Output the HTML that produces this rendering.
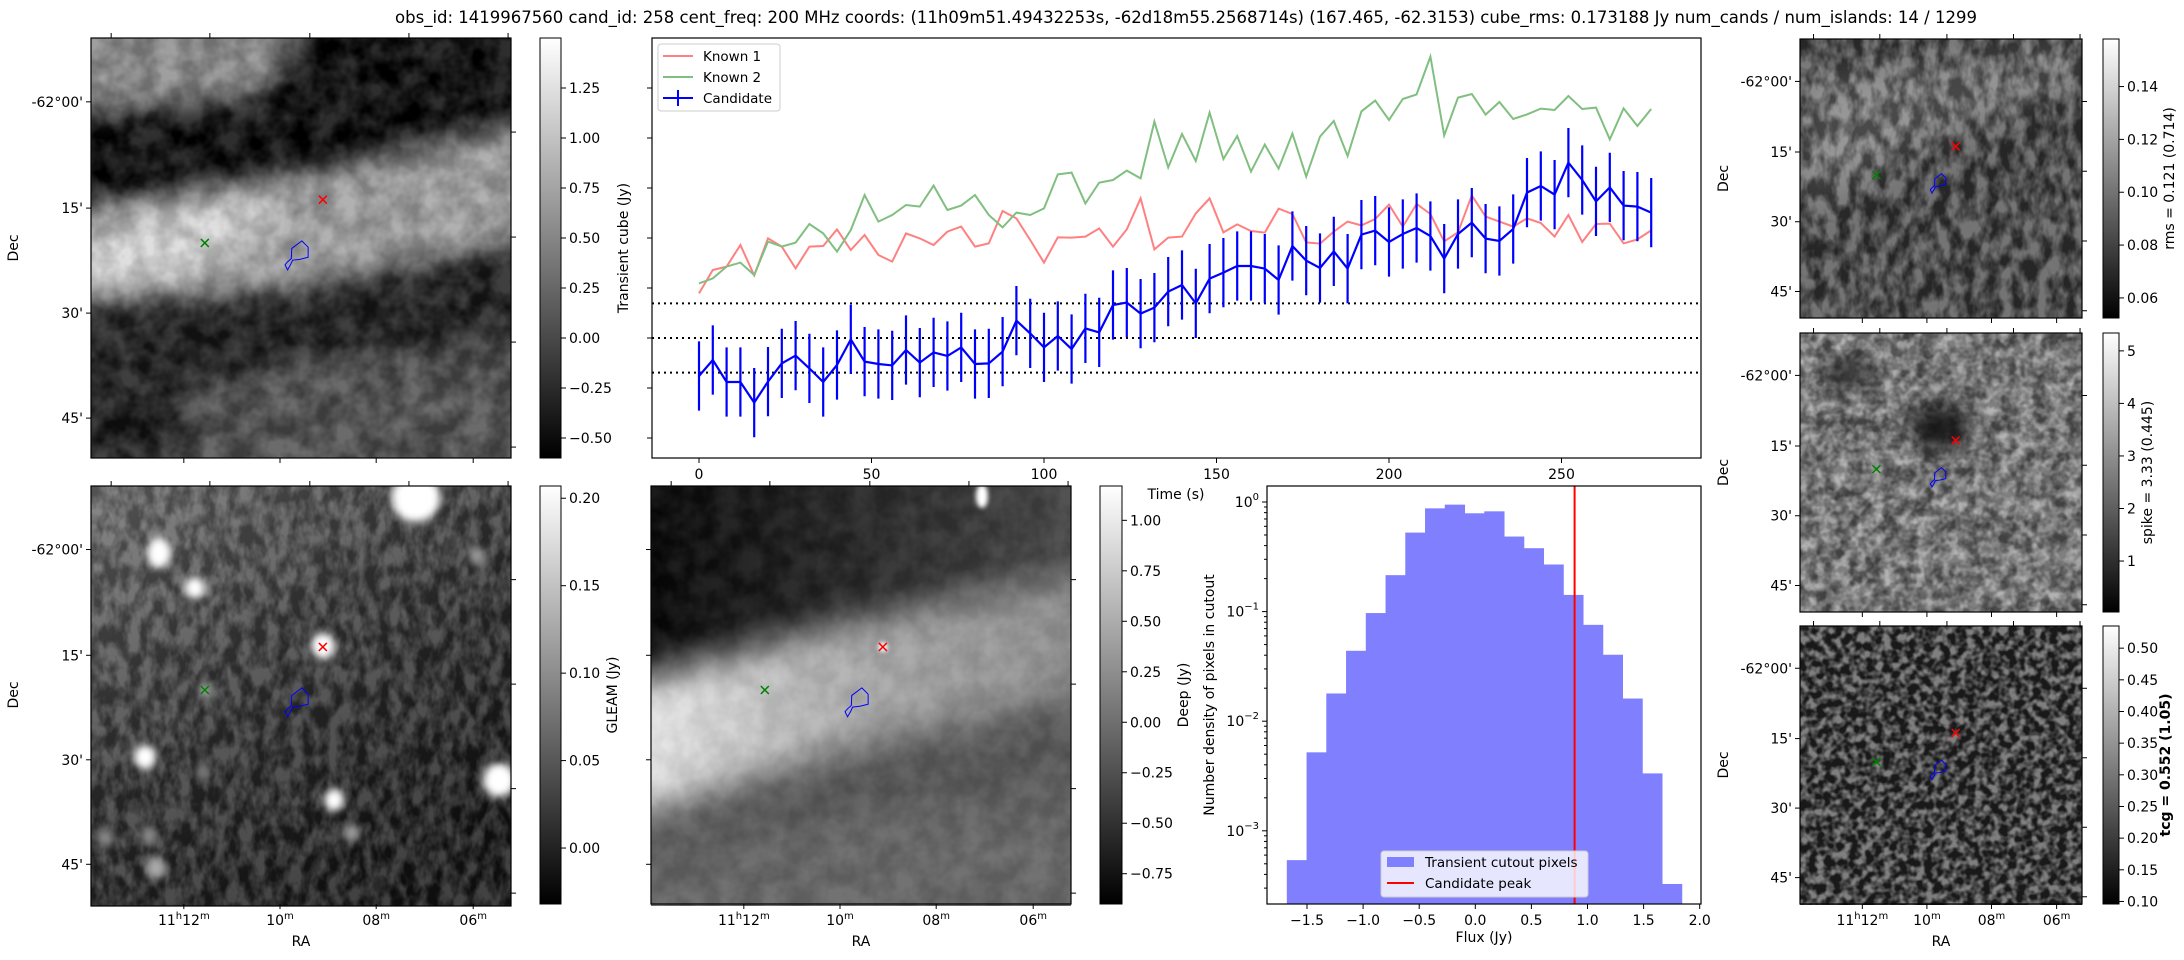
<!DOCTYPE html>
<html><head><meta charset="utf-8"><style>
html,body{margin:0;padding:0;background:#fff;}
svg{display:block;font-family:"DejaVu Sans","Liberation Sans",sans-serif;}
filter{color-interpolation-filters:sRGB;}
</style></head><body>
<svg id="fig" width="2184" height="960" viewBox="0 0 2184 960" xmlns="http://www.w3.org/2000/svg">
<defs>
<filter id="blur12" x="-10%" y="-10%" width="120%" height="120%" color-interpolation-filters="sRGB"><feGaussianBlur stdDeviation="12"/></filter>
<filter id="blur18" x="-10%" y="-10%" width="120%" height="120%" color-interpolation-filters="sRGB"><feGaussianBlur stdDeviation="18"/></filter>
<filter id="blur4" x="-50%" y="-50%" width="200%" height="200%" color-interpolation-filters="sRGB"><feGaussianBlur stdDeviation="4"/></filter>
<filter id="blur2" x="-50%" y="-50%" width="200%" height="200%" color-interpolation-filters="sRGB"><feGaussianBlur stdDeviation="2.5"/></filter>
<filter id="noiseA" x="0" y="0" width="100%" height="100%" color-interpolation-filters="sRGB"><feTurbulence type="fractalNoise" baseFrequency="0.045" numOctaves="3" seed="4"/><feColorMatrix type="matrix" values="1 0 0 0 0 1 0 0 0 0 1 0 0 0 0 0 0 0 0 1"/><feComponentTransfer><feFuncR type="linear" slope="2.2" intercept="-0.6"/><feFuncG type="linear" slope="2.2" intercept="-0.6"/><feFuncB type="linear" slope="2.2" intercept="-0.6"/></feComponentTransfer></filter>
<filter id="noiseB" x="0" y="0" width="100%" height="100%" color-interpolation-filters="sRGB"><feTurbulence type="fractalNoise" baseFrequency="0.08 0.05" numOctaves="3" seed="9"/><feColorMatrix type="matrix" values="1 0 0 0 0 1 0 0 0 0 1 0 0 0 0 0 0 0 0 1"/><feComponentTransfer><feFuncR type="linear" slope="2.6" intercept="-0.8"/><feFuncG type="linear" slope="2.6" intercept="-0.8"/><feFuncB type="linear" slope="2.6" intercept="-0.8"/></feComponentTransfer></filter>
<filter id="noiseC" x="0" y="0" width="100%" height="100%" color-interpolation-filters="sRGB"><feTurbulence type="fractalNoise" baseFrequency="0.12" numOctaves="2" seed="2"/><feColorMatrix type="matrix" values="1 0 0 0 0 1 0 0 0 0 1 0 0 0 0 0 0 0 0 1"/><feComponentTransfer><feFuncR type="linear" slope="3" intercept="-1.1"/><feFuncG type="linear" slope="3" intercept="-1.1"/><feFuncB type="linear" slope="3" intercept="-1.1"/></feComponentTransfer></filter>
<filter id="noiseD" x="0" y="0" width="100%" height="100%" color-interpolation-filters="sRGB"><feTurbulence type="fractalNoise" baseFrequency="0.06" numOctaves="3" seed="17"/><feColorMatrix type="matrix" values="1 0 0 0 0 1 0 0 0 0 1 0 0 0 0 0 0 0 0 1"/><feComponentTransfer><feFuncR type="linear" slope="2.6" intercept="-0.8"/><feFuncG type="linear" slope="2.6" intercept="-0.8"/><feFuncB type="linear" slope="2.6" intercept="-0.8"/></feComponentTransfer></filter>
<linearGradient id="cbar" x1="0" y1="1" x2="0" y2="0"><stop offset="0" stop-color="#000"/><stop offset="1" stop-color="#fff"/></linearGradient>
<linearGradient id="deepTop" x1="0" y1="0" x2="1" y2="0"><stop offset="0" stop-color="#000"/><stop offset="1" stop-color="#4a4a4a"/></linearGradient>
<linearGradient id="deepBand" x1="0" y1="0" x2="1" y2="0"><stop offset="0" stop-color="#f4f4f4"/><stop offset="0.5" stop-color="#aaa"/><stop offset="1" stop-color="#8a8a8a"/></linearGradient>
<linearGradient id="gleamBg" x1="0" y1="0" x2="0.6" y2="1"><stop offset="0" stop-color="#6a6a6a"/><stop offset="0.5" stop-color="#333"/><stop offset="1" stop-color="#121212"/></linearGradient>
<clipPath id="c420"><rect width="420" height="420"/></clipPath>
<clipPath id="c282"><rect width="282" height="279"/></clipPath>
</defs>

<text x="1186" y="23" text-anchor="middle" font-size="16.5" fill="#000">obs_id: 1419967560 cand_id: 258 cent_freq: 200 MHz coords: (11h09m51.49432253s, -62d18m55.2568714s) (167.465, -62.3153) cube_rms: 0.173188 Jy num_cands / num_islands: 14 / 1299</text>

<g transform="translate(91,38)">
 <g clip-path="url(#c420)">
  <rect width="420" height="420" fill="#555"/>
  <g filter="url(#blur12)">
   <polygon points="-30,-30 170,-30 210,20 170,60 -30,80" fill="#8a8a8a"/>
   <polygon points="-30,80 170,60 230,-30 450,-30 450,85 250,130 -30,170" fill="#000"/>
   <polygon points="-30,170 250,128 450,80 450,200 200,252 -30,268" fill="#a0a0a0"/>
   <ellipse cx="80" cy="205" rx="110" ry="35" transform="rotate(-14 80 205)" fill="#d8d8d8"/>
   <polygon points="-30,268 200,252 450,198 450,300 200,322 -30,395" fill="#151515"/>
   <polygon points="-30,395 200,322 450,300 450,450 -30,450" fill="#4a4a4a"/>
   <ellipse cx="30" cy="390" rx="70" ry="40" fill="#111"/>
  </g>
  <rect width="420" height="420" filter="url(#noiseA)" opacity="0.18"/>
 </g>
 <rect width="420" height="420" fill="none" stroke="#000" stroke-width="1.2"/>
</g>
<g transform="translate(91,486)">
 <g clip-path="url(#c420)">
  <rect width="420" height="420" fill="url(#gleamBg)"/>
  <rect width="420" height="420" filter="url(#noiseB)" opacity="0.2"/>
  <g filter="url(#blur4)" fill="#fff">
   <ellipse cx="325" cy="12" rx="24" ry="24"/>
   <ellipse cx="68" cy="67" rx="12" ry="15"/>
   <ellipse cx="104" cy="102" rx="10" ry="11"/>
   <ellipse cx="232" cy="160" rx="12" ry="13"/>
   <ellipse cx="54" cy="271" rx="11" ry="12"/>
   <ellipse cx="408" cy="294" rx="16" ry="17"/>
   <ellipse cx="243" cy="314" rx="10" ry="11"/>
   <ellipse cx="114" cy="204" rx="7" ry="8" fill="#999"/>
   <ellipse cx="261" cy="347" rx="8" ry="9" fill="#999"/>
   <ellipse cx="65" cy="382" rx="10" ry="11" fill="#aaa"/>
   <ellipse cx="14" cy="352" rx="8" ry="9" fill="#888"/>
   <ellipse cx="58" cy="350" rx="8" ry="9" fill="#888"/>
   <ellipse cx="386" cy="70" rx="8" ry="9" fill="#999"/>
   <ellipse cx="112" cy="286" rx="7" ry="9" fill="#777"/>
  </g>
 </g>
 <rect width="420" height="420" fill="none" stroke="#000" stroke-width="1.2"/>
</g>
<g transform="translate(651,486)">
 <g clip-path="url(#c420)">
  <rect width="420" height="420" fill="#666"/>
  <g filter="url(#blur18)">
   <polygon points="-40,-40 460,-40 460,80 200,135 -40,200" fill="url(#deepTop)"/>
   <polygon points="-40,200 200,135 460,80 460,200 200,262 -40,335" fill="url(#deepBand)"/>
   <polygon points="-40,335 200,262 460,200 460,300 200,330 -40,390" fill="#555"/>
  </g>
  <rect width="420" height="420" filter="url(#noiseA)" opacity="0.08"/>
  <g filter="url(#blur2)" fill="#fff"><ellipse cx="331" cy="10" rx="6" ry="12"/><ellipse cx="232" cy="161" rx="5" ry="5"/></g>
 </g>
 <rect width="420" height="418" fill="none" stroke="#000" stroke-width="1.2"/>
</g>
<g transform="translate(1800,39)">
 <g clip-path="url(#c282)">
  <rect width="282" height="279" fill="#383838"/>
  <g filter="url(#blur18)"><polygon points="0,40 150,20 282,0 282,40 150,90 0,170" fill="#6a6a6a"/></g>
  <rect width="282" height="279" filter="url(#noiseB)" opacity="0.3"/>
 </g>
 <rect width="282" height="279" fill="none" stroke="#000" stroke-width="1.2"/>
</g>
<g transform="translate(1800,333)">
 <g clip-path="url(#c282)">
  <rect width="282" height="279" fill="#777"/>
  <rect width="282" height="279" filter="url(#noiseD)" opacity="0.3"/>
  <rect width="282" height="279" filter="url(#noiseC)" opacity="0.2"/>
  <g filter="url(#blur12)"><ellipse cx="140" cy="95" rx="30" ry="22" fill="#111"/><ellipse cx="50" cy="40" rx="25" ry="14" fill="#222"/></g>
 </g>
 <rect width="282" height="279" fill="none" stroke="#000" stroke-width="1.2"/>
</g>
<g transform="translate(1800,626)">
 <g clip-path="url(#c282)">
  <rect width="282" height="279" fill="#2a2a2a"/>
  <rect width="282" height="279" filter="url(#noiseC)" opacity="0.4"/>
 </g>
 <rect width="282" height="278" fill="none" stroke="#000" stroke-width="1.2"/>
</g>

<g id="charts"></g>
</svg>
<script>
// ---- Light curve data ----
const lcTimes = [0,4,8,12,16,20,24,28,32,36,40,44,48,52,56,60,64,68,72,76,80,84,88,92,96,100,104,108,112,116,120,124,128,132,136,140,144,148,152,156,160,164,168,172,176,180,184,188,192,196,200,204,208,212,216,220,224,228,232,236,240,244,248,252,256,260,264,268,272,276];
const known1 = [0.223,0.34,0.357,0.465,0.313,0.498,0.457,0.348,0.457,0.46,0.543,0.44,0.515,0.415,0.382,0.523,0.498,0.465,0.532,0.557,0.457,0.473,0.635,0.598,0.49,0.377,0.503,0.502,0.507,0.548,0.457,0.543,0.698,0.443,0.502,0.507,0.623,0.698,0.528,0.568,0.535,0.527,0.647,0.62,0.478,0.472,0.532,0.582,0.563,0.595,0.667,0.557,0.67,0.62,0.483,0.528,0.713,0.607,0.582,0.557,0.598,0.575,0.507,0.615,0.48,0.57,0.572,0.473,0.493,0.538];
const known2 = [0.273,0.298,0.357,0.377,0.315,0.482,0.457,0.477,0.57,0.523,0.432,0.54,0.715,0.582,0.615,0.665,0.657,0.762,0.64,0.662,0.715,0.615,0.553,0.627,0.615,0.648,0.818,0.827,0.673,0.777,0.79,0.837,0.798,1.082,0.853,1.02,0.885,1.127,0.895,1.01,0.832,0.967,0.847,1.022,0.807,1.007,1.085,0.91,1.133,1.187,1.09,1.195,1.218,1.407,1.013,1.202,1.22,1.117,1.18,1.095,1.118,1.147,1.14,1.21,1.145,1.152,0.993,1.148,1.06,1.145];
const candidate = [-0.19,-0.11,-0.22,-0.22,-0.323,-0.218,-0.127,-0.088,-0.152,-0.22,-0.135,-0.007,-0.118,-0.13,-0.137,-0.06,-0.123,-0.072,-0.09,-0.047,-0.13,-0.127,-0.068,0.087,0.023,-0.047,0.01,-0.055,0.048,0.028,0.165,0.177,0.122,0.152,0.232,0.265,0.173,0.297,0.327,0.36,0.36,0.347,0.29,0.46,0.387,0.35,0.433,0.347,0.517,0.537,0.48,0.52,0.55,0.51,0.397,0.52,0.577,0.497,0.485,0.545,0.727,0.76,0.717,0.877,0.79,0.683,0.753,0.662,0.657,0.627];
const candErr = 0.173;
const rmsLines = [0.173188, 0, -0.173188];
const lcXTicks = [0,50,100,150,200,250];
const lcYTicks = [-0.5,-0.25,0,0.25,0.5,0.75,1.0,1.25];
// ---- Histogram data ----
const histEdgeStart = -1.68;
const histBinWidth = 0.176;
const histDensity = [5.4e-4,5.2e-3,1.79e-2,4.39e-2,9.7e-2,0.215,0.526,0.875,0.946,0.789,0.822,0.484,0.379,0.269,0.142,0.0757,0.0404,0.0161,3.34e-3,3.27e-4];
const candidatePeak = 0.885;
const histXTicks = [-1.5,-1.0,-0.5,0.0,0.5,1.0,1.5,2.0];
const histYDecades = [0,-1,-2,-3];
// ---- Colorbar data ----
const cbCube = [-0.5,-0.25,0,0.25,0.5,0.75,1.0,1.25];
const cbGleam = [0,0.05,0.1,0.15,0.2];
const cbDeep = [-0.75,-0.5,-0.25,0,0.25,0.5,0.75,1.0];
const cbRms = [0.06,0.08,0.1,0.12,0.14];
const cbSpike = [1,2,3,4,5];
const cbTcg = [0.1,0.15,0.2,0.25,0.3,0.35,0.4,0.45,0.5];
const raTicks = ['12','10','08','06'];
const decTicks = ["-62°00'","15'","30'","45'"];

const NS='http://www.w3.org/2000/svg';
const root=document.getElementById('charts');
function mk(tag,attrs,parent){const e=document.createElementNS(NS,tag);for(const k in attrs)e.setAttribute(k,attrs[k]);(parent||root).appendChild(e);return e;}
function fmt(v,d){return (v<0?'\u2212':'')+Math.abs(v).toFixed(d);}

// ---- Light curve ----
const LC={l:652,r:1701,t:38,b:458};
const lx=t=>699+3.45*t, ly=v=>338-200*v;
const lcG=mk('g',{});


const cp=mk('clipPath',{id:'lcClip'},lcG);
mk('rect',{x:LC.l,y:LC.t,width:LC.r-LC.l,height:LC.b-LC.t},cp);
const inner=mk('g',{'clip-path':'url(#lcClip)'},lcG);
rmsLines.forEach(v=>{const l=mk('line',{x1:LC.l,x2:LC.r,y1:ly(v),y2:ly(v),stroke:'#000','stroke-width':2,'stroke-dasharray':'2 4'},inner);

});
function series(vals,color,name,w){const p=mk('polyline',{points:vals.map((v,i)=>lx(lcTimes[i])+','+ly(v)).join(' '),fill:'none',stroke:color,'stroke-width':w},inner);

}
series(known1,'#ff8080','known-1-line',2);
series(known2,'#80bf80','known-2-line',2);
candidate.forEach((v,i)=>{const e=mk('line',{x1:lx(lcTimes[i]),x2:lx(lcTimes[i]),y1:ly(v+candErr),y2:ly(v-candErr),stroke:'#0000ff','stroke-width':2.2},inner);

});
series(candidate,'#0000ff','candidate-line',2.2);
const lcFrame=mk('rect',{x:LC.l,y:LC.t,width:LC.r-LC.l,height:LC.b-LC.t,fill:'none',stroke:'#000','stroke-width':1.2},lcG);


lcXTicks.forEach(t=>{mk('line',{x1:lx(t),x2:lx(t),y1:LC.b,y2:LC.b+5,stroke:'#000'},lcG);
const tx=mk('text',{x:lx(t),y:LC.b+21,'font-size':14,'text-anchor':'middle'},lcG);tx.textContent=t;

});
lcYTicks.forEach(v=>{mk('line',{x1:LC.l-5,x2:LC.l,y1:ly(v),y2:ly(v),stroke:'#000'},lcG);});
const tl=mk('text',{x:1176,y:499,'font-size':14,'text-anchor':'middle'},lcG);tl.textContent='Time (s)';


const yl=mk('text',{x:0,y:0,'font-size':14,'text-anchor':'middle',transform:'translate(628,248) rotate(-90)'},lcG);yl.textContent='Transient cube (Jy)';


const lg=mk('g',{},lcG);


mk('rect',{x:658,y:44,width:122,height:67,rx:3,fill:'#fff','fill-opacity':0.8,stroke:'#ccc'},lg);
[['Known 1','#ff8080',56],['Known 2','#80bf80',77],['Candidate','#0000ff',98]].forEach(([n,c,y],k)=>{
mk('line',{x1:663,x2:693,y1:y,y2:y,stroke:c,'stroke-width':2},lg);
if(k==2)mk('line',{x1:678,x2:678,y1:y-8,y2:y+8,stroke:c,'stroke-width':2},lg);
const t=mk('text',{x:703,y:y+5,'font-size':13.5},lg);t.textContent=n;

});

// ---- Histogram ----
const H={l:1267,r:1701,t:486,b:904};
const hx=f=>1307+(f+1.5)*112.2, hy=v=>502-109.6*Math.log10(v);
const hG=mk('g',{});


histDensity.forEach((v,i)=>{const x0=hx(histEdgeStart+i*histBinWidth),x1=hx(histEdgeStart+(i+1)*histBinWidth);
const b=mk('rect',{x:x0,y:hy(v),width:x1-x0+0.5,height:H.b-hy(v),fill:'#8080ff'},hG);

});
const pk=mk('line',{x1:hx(candidatePeak),x2:hx(candidatePeak),y1:H.t,y2:H.b,stroke:'#ff0000','stroke-width':2},hG);


mk('rect',{x:H.l,y:H.t,width:H.r-H.l,height:H.b-H.t,fill:'none',stroke:'#000','stroke-width':1.2},hG);
histXTicks.forEach(f=>{mk('line',{x1:hx(f),x2:hx(f),y1:H.b,y2:H.b+5,stroke:'#000'},hG);
const t=mk('text',{x:hx(f),y:H.b+21,'font-size':14,'text-anchor':'middle'},hG);t.textContent=fmt(f,1);

});
histYDecades.forEach(d=>{const y=hy(Math.pow(10,d));mk('line',{x1:H.l-5,x2:H.l,y1:y,y2:y,stroke:'#000'},hG);
const t=mk('text',{x:H.l-8,y:y+5,'font-size':14,'text-anchor':'end'},hG);t.textContent='10';
const s=mk('tspan',{'font-size':10,dy:-7},t);s.textContent=d===0?'0':'\u2212'+(-d);


for(let m=2;m<10;m++){const ym=hy(m*Math.pow(10,d-1));if(ym<H.b&&ym>H.t)mk('line',{x1:H.l-3,x2:H.l,y1:ym,y2:ym,stroke:'#000'},hG);}});
const fx=mk('text',{x:1484,y:942,'font-size':14,'text-anchor':'middle'},hG);fx.textContent='Flux (Jy)';


const fy=mk('text',{x:0,y:0,'font-size':14,'text-anchor':'middle',transform:'translate(1214,695) rotate(-90)'},hG);fy.textContent='Number density of pixels in cutout';


const hl=mk('g',{},hG);


mk('rect',{x:1381,y:851,width:207,height:46,rx:3,fill:'#fff','fill-opacity':0.8,stroke:'#ccc'},hl);
mk('rect',{x:1387,y:857,width:27,height:10,fill:'#8080ff'},hl);
mk('line',{x1:1387,x2:1414,y1:883,y2:883,stroke:'#ff0000','stroke-width':2},hl);
const h1=mk('text',{x:1425,y:867,'font-size':13.5},hl);h1.textContent='Transient cutout pixels';


const h2=mk('text',{x:1425,y:888,'font-size':13.5},hl);h2.textContent='Candidate peak';



// ---- Colorbars ----
function colorbar(name,x,w,top,bot,vmin,vmax,ticks,dec,label,labelX,bold){
const g=mk('g',{});


mk('rect',{x:x,y:top,width:w,height:bot-top,fill:'url(#cbar)',stroke:'#000','stroke-width':1},g);
const cy=v=>bot-(v-vmin)/(vmax-vmin)*(bot-top);
ticks.forEach(v=>{const y=cy(v);mk('line',{x1:x+w,x2:x+w+5,y1:y,y2:y,stroke:'#000'},g);
const t=mk('text',{x:x+w+8,y:y+5,'font-size':14},g);t.textContent=fmt(v,dec);

});
const lt=mk('text',{x:0,y:0,'font-size':14,'text-anchor':'middle','font-weight':bold?'bold':'normal',transform:'translate('+labelX+','+((top+bot)/2)+') rotate(-90)'},g);lt.textContent=label;

}
colorbar('cube-colorbar',540,21,38,458,-0.6,1.5,cbCube,2,'',0,false);
colorbar('gleam-colorbar',540,21,486,904,-0.032,0.207,cbGleam,2,'GLEAM (Jy)',617,false);
colorbar('deep-colorbar',1100,22,486,904,-0.90,1.17,cbDeep,2,'Deep (Jy)',1188,false);
colorbar('rms-colorbar',2103,16,39,318,0.0524,0.158,cbRms,2,'rms = 0.121 (0.714)',2174,false);
colorbar('spike-colorbar',2103,16,333,612,0.03,5.34,cbSpike,0,'spike = 3.33 (0.445)',2152,false);
colorbar('tcg-colorbar',2103,16,626,904,0.096,0.535,cbTcg,2,'tcg = 0.552 (1.05)',2170,true);

// ---- Image axes ----
const contourFr=[[0.502,0.483],[0.517,0.498],[0.517,0.522],[0.497,0.527],[0.48,0.529],[0.475,0.54],[0.468,0.552],[0.462,0.54],[0.468,0.533],[0.477,0.525],[0.478,0.501]];
function imageAxes(name,x,y,w,h,decLabels,raLabels,decTitleX){
const g=mk('g',{});


[0.048,0.283,0.521,0.757,0.993].forEach(f=>mk('line',{x1:x+f*w,x2:x+f*w,y1:y,y2:y-5,stroke:'#000'},g));
[0.221,0.45,0.679,0.91].forEach((f,i)=>{mk('line',{x1:x+f*w,x2:x+f*w,y1:y+h,y2:y+h+5,stroke:'#000'},g);
if(raLabels){const t=mk('text',{x:x+f*w,y:y+h+21,'font-size':14,'text-anchor':'middle'},g);


if(i===0){t.appendChild(document.createTextNode('11'));const s=mk('tspan',{'font-size':10,dy:-6},t);s.textContent='h';const s2=mk('tspan',{dy:6},t);s2.textContent='12';}
else t.appendChild(document.createTextNode(raTicks[i]));
const m=mk('tspan',{'font-size':10,dy:-6},t);m.textContent='m';}});
[0.224,0.474,0.724,0.974].forEach(f=>mk('line',{x1:x+w,x2:x+w+5,y1:y+f*h,y2:y+f*h,stroke:'#000'},g));
[0.152,0.405,0.655,0.905].forEach((f,i)=>{mk('line',{x1:x-5,x2:x,y1:y+f*h,y2:y+f*h,stroke:'#000'},g);
if(decLabels){const t=mk('text',{x:x-8,y:y+f*h+5,'font-size':14,'text-anchor':'end'},g);t.textContent=decTicks[i];

}});
if(decLabels){const d=mk('text',{x:0,y:0,'font-size':14,'text-anchor':'middle',transform:'translate('+decTitleX+','+(y+h/2)+') rotate(-90)'},g);d.textContent='Dec';

}
if(raLabels){const r=mk('text',{x:x+w/2,y:y+h+42,'font-size':14,'text-anchor':'middle'},g);r.textContent='RA';

}
const cx=x+0.552*w,cyy=y+0.385*h;
const rx=mk('path',{d:`M${cx-4},${cyy-4}L${cx+4},${cyy+4}M${cx-4},${cyy+4}L${cx+4},${cyy-4}`,stroke:'#ff0000','stroke-width':1.5},g);


const gx=x+0.271*w,gy=y+0.488*h;
const gm=mk('path',{d:`M${gx-4},${gy-4}L${gx+4},${gy+4}M${gx-4},${gy+4}L${gx+4},${gy-4}`,stroke:'#008000','stroke-width':1.5},g);


const c=mk('polygon',{points:contourFr.map(p=>(x+p[0]*w)+','+(y+p[1]*h)).join(' '),fill:'none',stroke:'#0000ff','stroke-width':1},g);

}
imageAxes('transient-cube-axes',91,38,420,420,true,false,18);
imageAxes('gleam-axes',91,486,420,418,true,true,18);
imageAxes('deep-axes',651,486,420,418,false,true,0);
imageAxes('rms-axes',1800,39,282,279,true,false,1728);
imageAxes('spike-axes',1800,333,282,279,true,false,1728);
imageAxes('tcg-axes',1800,626,282,278,true,true,1728);
</script>
</body></html>
